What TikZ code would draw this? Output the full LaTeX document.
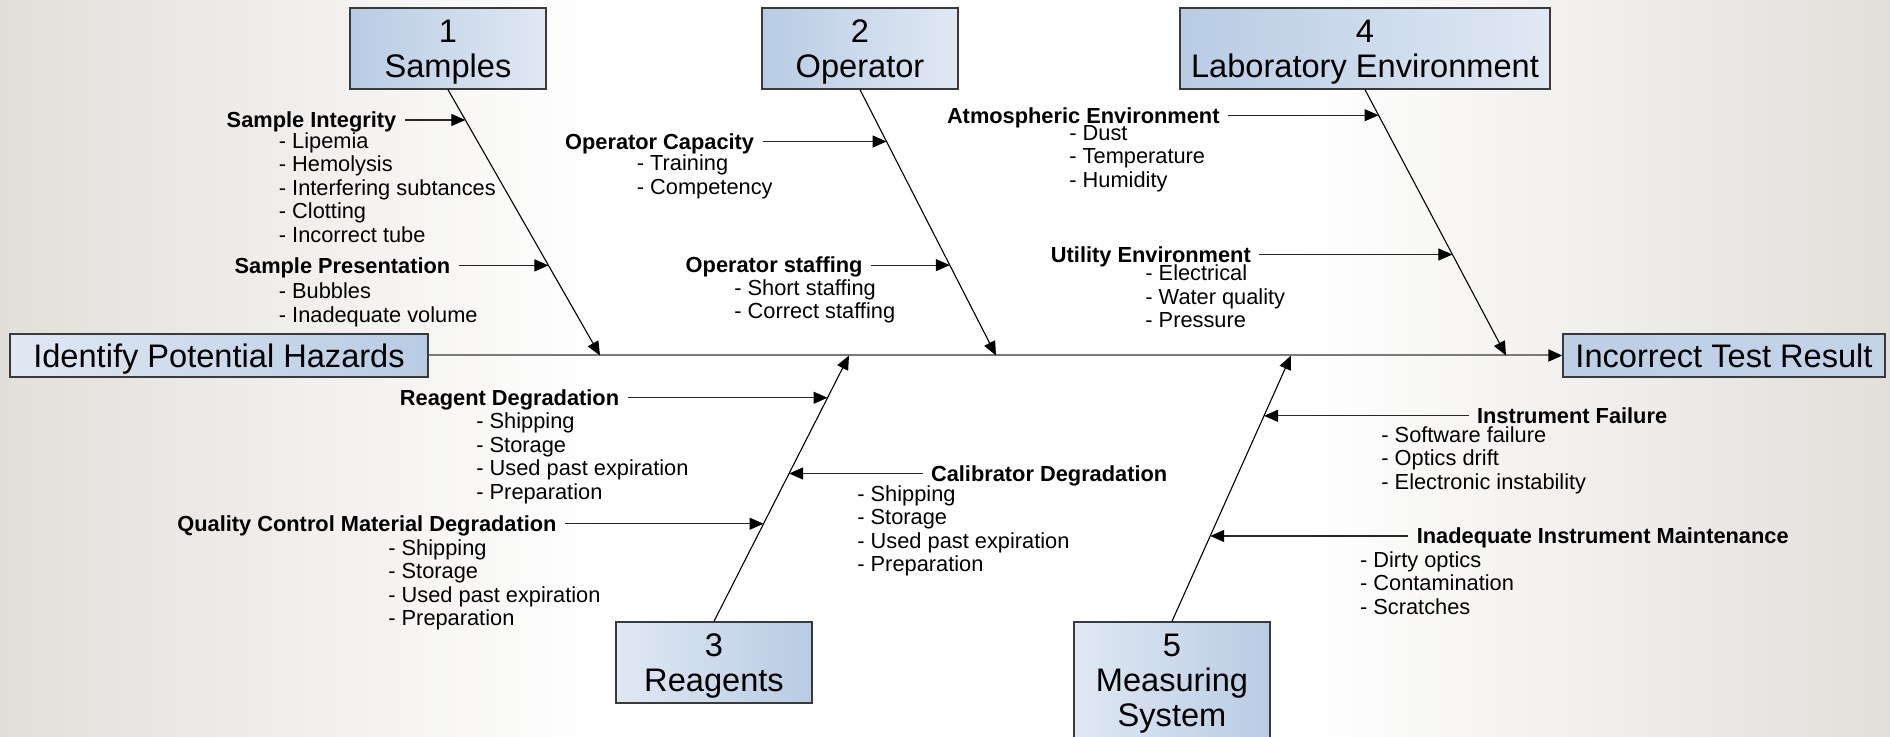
\documentclass[tikz,border=0pt]{standalone}
\usepackage{fontspec}
\setmainfont{Liberation Sans}
\usetikzlibrary{positioning,arrows.meta}
\definecolor{boxDark}{HTML}{B8CCE4}
\definecolor{boxLight}{HTML}{E0E8F3}
\definecolor{boxLine}{HTML}{3A3A3A}
\definecolor{bgGray}{HTML}{E2DFDA}
\definecolor{spineGray}{HTML}{7A7A7A}
\newcommand{\boxTop}{\rule{0pt}{15.2pt}}
\newcommand{\boxBot}{\rule[-3.5pt]{0pt}{3.5pt}}

\begin{document}
\begin{tikzpicture}[x=0.5pt,y=-0.5pt,
	boxBase/.style={draw=boxLine, line width=0.7pt, inner sep=0pt, align=center, font=\fontsize{16.3}{17.5}\selectfont},
	topBox/.style={boxBase, left color=boxDark, right color=boxLight, minimum width=98pt, minimum height=40.5pt},
	bottomBox/.style={boxBase, left color=boxLight, right color=boxDark, minimum width=98pt, minimum height=40.5pt},
	endBox/.style={boxBase, minimum height=21.5pt},
	causeName/.style={font=\fontsize{10.9}{11.75}\selectfont\bfseries, inner xsep=4pt, inner ysep=0pt, text height=10pt, text depth=2.15pt},
	itemList/.style={font=\fontsize{10.9}{11.75}\selectfont, align=left, anchor=north west, inner sep=0pt},
	tipShape/.style={-{Triangle[length=7pt,width=6pt,color=black]}},
	bone/.style={line width=0.55pt, tipShape},
	subArrow/.style={line width=0.55pt, draw=black!85, tipShape},
	spine/.style={line width=1pt, draw=spineGray, tipShape}]
\useasboundingbox (0,0) rectangle (1890,737);
\fill[white] (0,0) rectangle (1890,737);
\shade[left color=bgGray, right color=white] (0,0) rectangle (600,737);
\shade[left color=white, right color=bgGray] (1300,0) rectangle (1890,737);

	\node[topBox] (samples) at (448,48.5) {\boxTop 1\\Samples\boxBot};
	\node[topBox] (operator) at (860,48.5) {\boxTop 2\\Operator\boxBot};
	\node[topBox, minimum width=185pt] (labEnv) at (1365,48.5) {\boxTop 4\\Laboratory Environment\boxBot};
	\node[bottomBox] (reagents) at (714,662.5) {\boxTop 3\\Reagents\boxBot};
	\node[bottomBox, minimum height=58pt] (measuring) at (1172,680) {\boxTop 5\\Measuring\\System\boxBot};
	\node[endBox, left color=boxLight, right color=boxDark, minimum width=209pt] (hazards) at (219,355.5) {\boxTop Identify Potential Hazards\boxBot};
	\node[endBox, left color=boxDark!90!boxLight, right color=boxDark!70!boxLight, minimum width=161pt] (result) at (1724,355.5) {\boxTop Incorrect Test Result\boxBot};

	\coordinate (j1) at (600,355.5);
	\coordinate (j2) at (996,355.5);
	\coordinate (j3) at (849,355.5);
	\coordinate (j4) at (1506,355.5);
	\coordinate (j5) at (1291,355.5);

	\draw[spine] (hazards) -- (result);
	\draw[bone] (samples.south) -- coordinate[pos=.114] (sInteg) coordinate[pos=.661] (sPres) (j1);
	\draw[bone] (operator.south) -- coordinate[pos=.195] (oCap) coordinate[pos=.66] (oStaff) (j2);
	\draw[bone] (labEnv.south) -- coordinate[pos=.096] (aEnv) coordinate[pos=.62] (uEnv) (j4);
	\draw[bone] (reagents.north) -- coordinate[pos=.367] (qDeg) coordinate[pos=.556] (cDeg) coordinate[pos=.841] (rDeg) (j3);
	\draw[bone] (measuring.north) -- coordinate[pos=.321] (iMaint) coordinate[pos=.773] (iFail) (j5);

	\node[causeName, left=30.3pt of sInteg] (sIntegName) {Sample Integrity};
	\draw[subArrow] (sIntegName) -- (sInteg);
	\node[itemList] (sIntegList) at (278.5,132) {- Lipemia\\- Hemolysis\\- Interfering subtances\\- Clotting\\- Incorrect tube};

	\node[causeName, left=44.9pt of sPres] (sPresName) {Sample Presentation};
	\draw[subArrow] (sPresName) -- (sPres);
	\node[itemList] (sPresList) at (278.5,282.6) {- Bubbles\\- Inadequate volume};

	\node[causeName, left=62pt of oCap] (oCapName) {Operator Capacity};
	\draw[subArrow] (oCapName) -- (oCap);
	\node[itemList] (oCapList) at (636.5,154.8) {- Training\\- Competency};

	\node[causeName, left=39.4pt of oStaff] (oStaffName) {Operator staffing};
	\draw[subArrow] (oStaffName) -- (oStaff);
	\node[itemList] (oStaffList) at (734,279) {- Short staffing\\- Correct staffing};

	\node[causeName, left=75.3pt of aEnv] (aEnvName) {Atmospheric Environment};
	\draw[subArrow] (aEnvName) -- (aEnv);
	\node[itemList] (aEnvList) at (1069,125) {- Dust\\- Temperature\\- Humidity};

	\node[causeName, left=96.6pt of uEnv] (uEnvName) {Utility Environment};
	\draw[subArrow] (uEnvName) -- (uEnv);
	\node[itemList] (uEnvList) at (1145,264.5) {- Electrical\\- Water quality\\- Pressure};

	\node[causeName, left=100pt of rDeg] (rDegName) {Reagent Degradation};
	\draw[subArrow] (rDegName) -- (rDeg);
	\node[itemList] (rDegList) at (476,412.8) {- Shipping\\- Storage\\- Used past expiration\\- Preparation};

	\node[causeName, left=99.3pt of qDeg] (qDegName) {Quality Control Material Degradation};
	\draw[subArrow] (qDegName) -- (qDeg);
	\node[itemList] (qDegList) at (388,539) {- Shipping\\- Storage\\- Used past expiration\\- Preparation};

	\node[causeName, right=66.8pt of cDeg] (cDegName) {Calibrator Degradation};
	\draw[subArrow] (cDegName) -- (cDeg);
	\node[itemList] (cDegList) at (857,485) {- Shipping\\- Storage\\- Used past expiration\\- Preparation};

	\node[causeName, right=102.3pt of iFail] (iFailName) {Instrument Failure};
	\draw[subArrow] (iFailName) -- (iFail);
	\node[itemList] (iFailList) at (1381,426) {- Software failure\\- Optics drift\\- Electronic instability};

	\node[causeName, right=99.1pt of iMaint] (iMaintName) {Inadequate Instrument Maintenance};
	\draw[subArrow] (iMaintName) -- (iMaint);
	\node[itemList] (iMaintList) at (1359.7,551) {- Dirty optics\\- Contamination\\- Scratches};
\end{tikzpicture}
\end{document}
